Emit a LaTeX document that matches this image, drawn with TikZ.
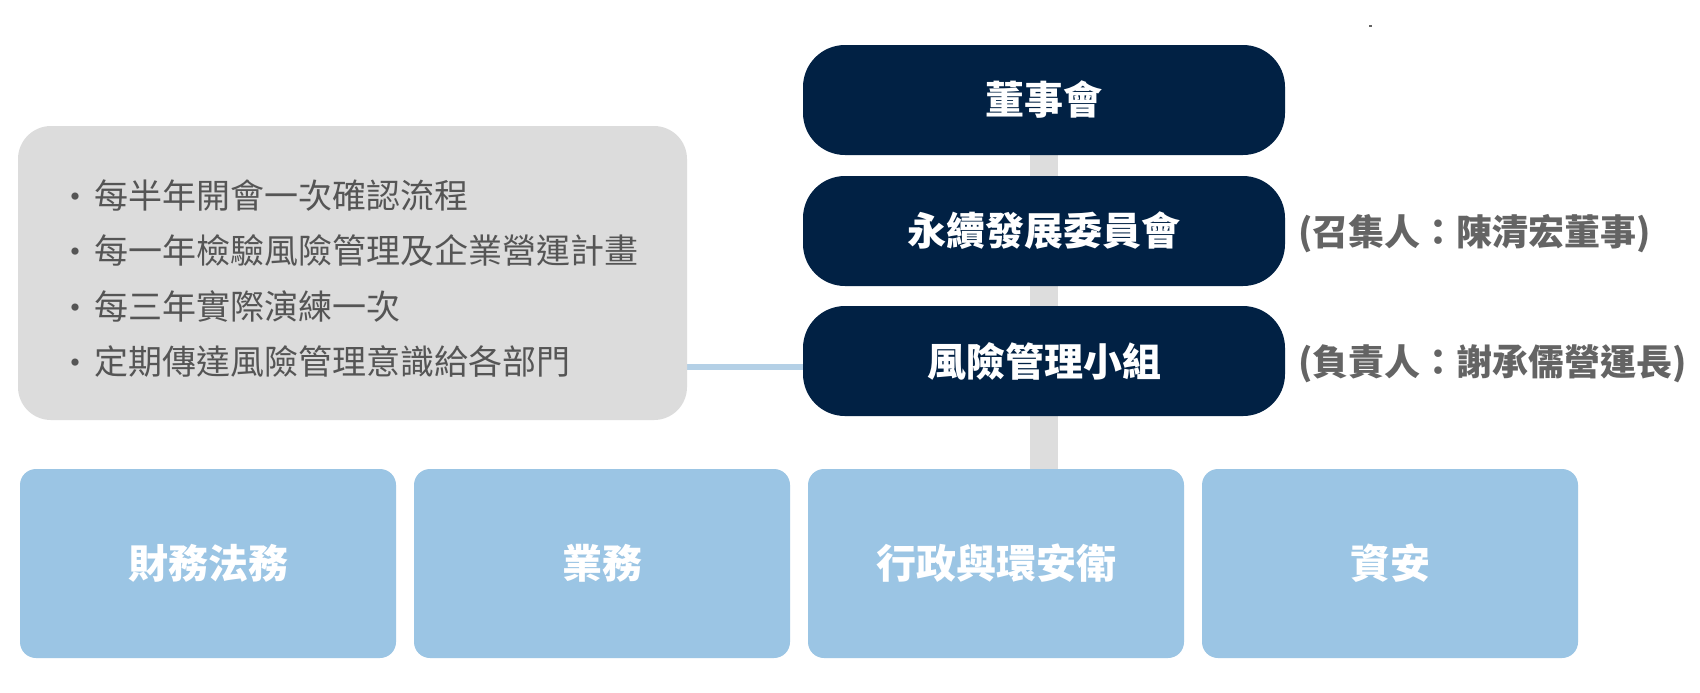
\documentclass[tikz,border=0pt]{standalone}
\usepackage{fontspec}
\setmainfont{Noto Sans CJK TC}
\usetikzlibrary{backgrounds}
\definecolor{navy}{RGB}{1,33,68}
\definecolor{lblue}{RGB}{155,197,228}
\definecolor{gbox}{RGB}{220,220,220}
\definecolor{gbar}{RGB}{221,221,221}
\definecolor{lline}{RGB}{180,208,230}
\definecolor{tgray}{RGB}{85,85,85}
\definecolor{agray}{RGB}{100,100,100}
\begin{document}
\begin{tikzpicture}[x=0.5pt,y=-0.5pt,
  darkbox/.style={fill=navy, text=white, rounded corners=21pt, minimum width=241pt, minimum height=55pt, inner sep=0pt, font=\fontsize{19.5pt}{23pt}\selectfont\bfseries},
  unitbox/.style={fill=lblue, text=white, rounded corners=8pt, minimum width=188pt, minimum height=94.5pt, inner sep=0pt, font=\fontsize{20pt}{24pt}\selectfont\bfseries},
  notebox/.style={fill=gbox, rounded corners=16.5pt, minimum width=334.5pt, minimum height=147pt, inner sep=0pt},
  bullettext/.style={anchor=west, inner sep=0pt, text=tgray, font=\fontsize{17pt}{20pt}\selectfont},
  bulletdot/.style={anchor=base, inner sep=0pt, yshift=-0.5pt, text=tgray, font=\fontsize{17pt}{20pt}\selectfont},
  annot/.style={anchor=west, inner sep=0pt, text=agray, font=\fontsize{18pt}{22pt}\selectfont\bfseries},
  barline/.style={draw=gbar, line width=14pt},
  linkline/.style={draw=lline, line width=3pt},
]
\useasboundingbox (0,0) rectangle (1700,692);
\fill[agray] (1369,25) rectangle (1372,27);

% governance chain
\node[darkbox] (board) at (1044,100) {董事會};
\node[darkbox] (esg) at (1044,231) {永續發展委員會};
\node[darkbox] (risk) at (1044,361) {風險管理小組};
\node[annot] (esgnote) at (1298,234) {(召集人：陳清宏董事)};
\node[annot] (risknote) at (1298,364) {(負責人：謝承儒營運長)};

% note box
\node[notebox] (note) at (352.5,273) {};
\node[bullettext] (t1) at (94,196) {每半年開會一次確認流程};
\node[bullettext] (t2) at (94,251) {每一年檢驗風險管理及企業營運計畫};
\node[bullettext] (t3) at (94,306) {每三年實際演練一次};
\node[bullettext] (t4) at (94,361) {定期傳達風險管理意識給各部門};
\node[bulletdot] (b1) at (t1.base -| 75,0) {•};
\node[bulletdot] (b2) at (t2.base -| 75,0) {•};
\node[bulletdot] (b3) at (t3.base -| 75,0) {•};
\node[bulletdot] (b4) at (t4.base -| 75,0) {•};

% units
\node[unitbox] (fin) at (208,563.5) {財務法務};
\node[unitbox] (biz) at (602,563.5) {業務};
\node[unitbox] (adm) at (996,563.5) {行政與環安衛};
\node[unitbox] (sec) at (1390,563.5) {資安};

\begin{scope}[on background layer]
  \fill[white] (0,0) rectangle (1700,692);
  \path[barline] (board.south) -- (board.south |- adm.north);
  \path[linkline] (note.east |- 0,367) -- (risk.west |- 0,367);
\end{scope}
\end{tikzpicture}
\end{document}
